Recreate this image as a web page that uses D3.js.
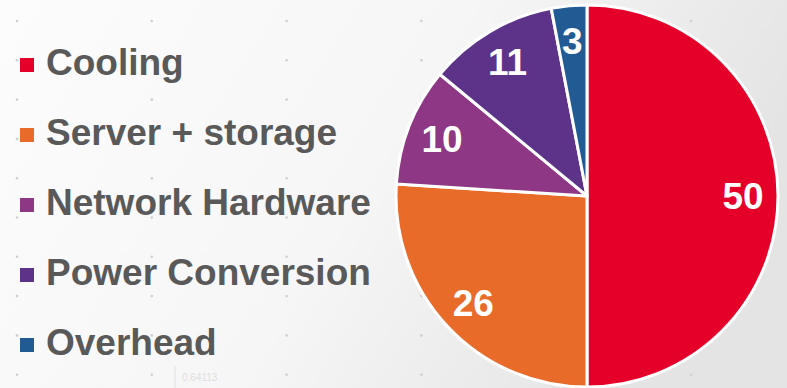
<!DOCTYPE html>
<html>
<head>
<meta charset="utf-8">
<script src="https://cdn.jsdelivr.net/npm/d3@7"></script>
<style>
  html, body { margin: 0; padding: 0; background: #fff; }
  svg { display: block; }
</style>
</head>
<body>
<svg id="chart" width="787" height="388"></svg>
<script>
// Energy share by data-centre component (percent)
const categories = ["Cooling", "Server + storage", "Network Hardware", "Power Conversion", "Overhead"];
const values = [50, 26, 10, 11, 3];
const colors = ["#e5002a", "#e86b2a", "#8e3784", "#5c3389", "#225a94"];

const W = 787, H = 388;
const svg = d3.select("#chart");

// soft backdrop
const defs = svg.append("defs");
const grad = defs.append("linearGradient").attr("id", "bg").attr("x1", "0").attr("x2", "1").attr("y1", "0").attr("y2", "0.3");
grad.append("stop").attr("offset", "0").attr("stop-color", "#fcfcfc");
grad.append("stop").attr("offset", "0.55").attr("stop-color", "#f6f6f6");
grad.append("stop").attr("offset", "1").attr("stop-color", "#e4e4e4");
svg.append("rect").attr("width", W).attr("height", H).attr("fill", "url(#bg)");

// faint dot texture
const dotX = d3.range(17, W, 134.8);
const dotY = d3.range(21, H, 39.3);
svg.append("g").selectAll("circle")
  .data(d3.cross(dotX, dotY))
  .join("circle")
  .attr("cx", d => d[0]).attr("cy", d => d[1]).attr("r", 1.3)
  .attr("fill", "#cfcfcf");

// faint watermark value
svg.append("line").attr("x1", 175).attr("x2", 175).attr("y1", 366).attr("y2", 388)
  .attr("stroke", "#e2e2e2").attr("stroke-width", 1);
svg.append("text").attr("x", 182).attr("y", 381).text("0.64113")
  .attr("font-family", "Liberation Sans, Arial, sans-serif").attr("font-size", 10)
  .attr("fill", "#dedede");

// pie
const cx = 587, cy = 196, R = 191;
const pie = d3.pie().sort(null).value(d => d)(values);
const arc = d3.arc().innerRadius(0).outerRadius(R);
const labelArc = d3.arc().innerRadius(156).outerRadius(156);

const g = svg.append("g").attr("transform", `translate(${cx},${cy})`);
g.selectAll("path").data(pie).join("path")
  .attr("d", arc)
  .attr("fill", (d, i) => colors[i])
  .attr("stroke", "#fff").attr("stroke-width", 3).attr("stroke-linejoin", "round");

g.selectAll("text").data(pie).join("text")
  .attr("transform", d => `translate(${labelArc.centroid(d)})`)
  .attr("text-anchor", "middle").attr("dy", "0.35em")
  .attr("font-family", "Liberation Sans, Arial, sans-serif")
  .attr("font-weight", "bold").attr("font-size", 37)
  .attr("fill", "#fff")
  .text(d => d.data);

// legend
const legend = svg.append("g");
const rowY = d3.scalePoint().domain(categories).range([65, 345]);
const rows = legend.selectAll("g").data(categories).join("g")
  .attr("transform", d => `translate(0,${rowY(d)})`);
rows.append("rect").attr("x", 20).attr("y", -7).attr("width", 14).attr("height", 14)
  .attr("fill", (d, i) => colors[i]);
rows.append("text").attr("x", 46).attr("y", 10)
  .attr("font-family", "Liberation Sans, Arial, sans-serif")
  .attr("font-weight", "bold").attr("font-size", 37)
  .attr("fill", "#595959")
  .text(d => d);
</script>
</body>
</html>
